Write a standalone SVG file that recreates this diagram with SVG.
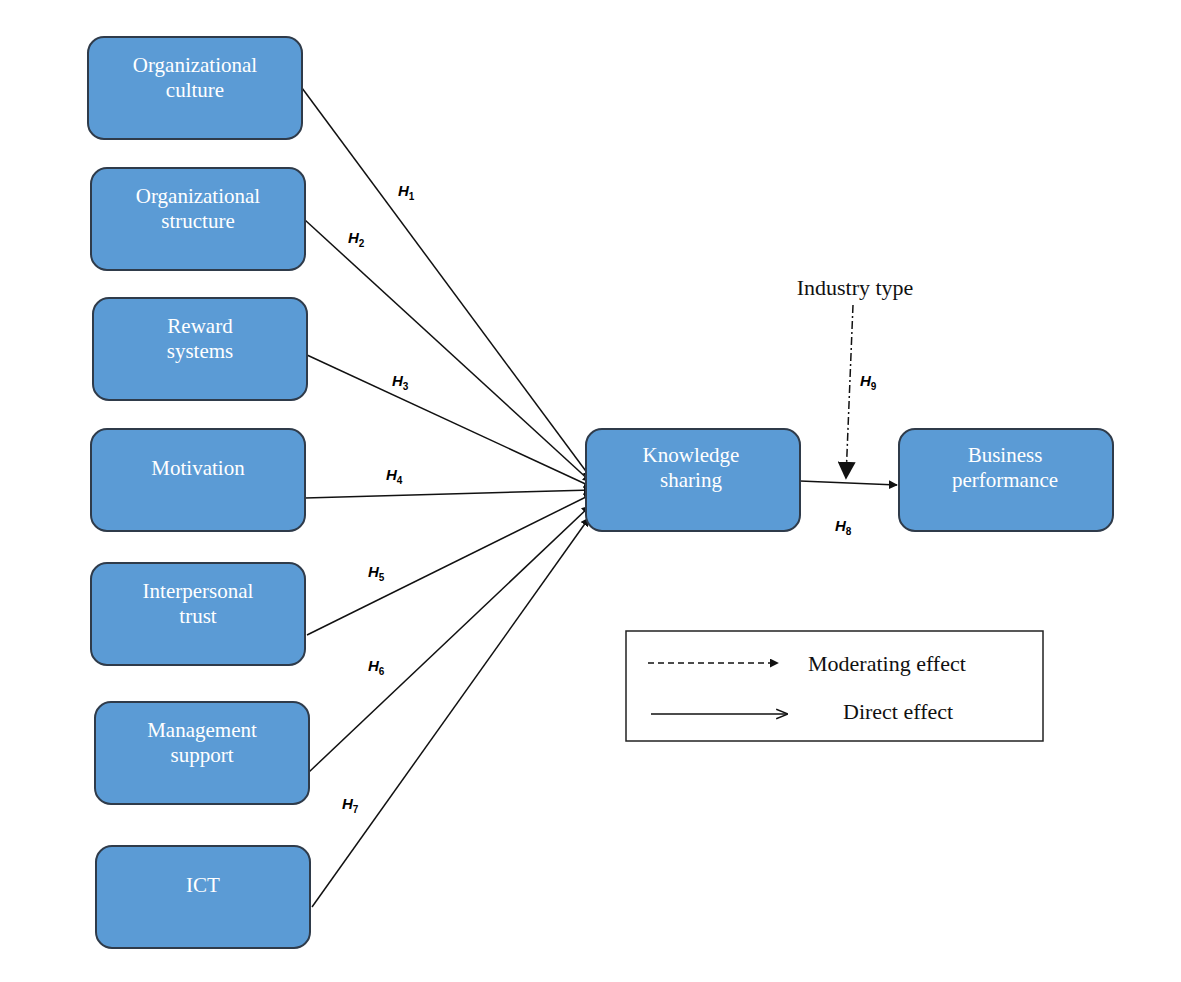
<svg xmlns="http://www.w3.org/2000/svg" width="1181" height="982" viewBox="0 0 1181 982">
<style>
.n rect{fill:#5b9bd5;stroke:#2f3b4a;stroke-width:2}
.n text{font-family:"Liberation Serif",serif;font-size:21px;fill:#fff;text-anchor:middle}
.h{font-family:"Liberation Sans",sans-serif;font-size:15px;font-weight:bold;font-style:italic;fill:#000}
.h tspan{font-size:10px;font-style:normal}
.c line{stroke:#111;stroke-width:1.5}
.lg{font-family:"Liberation Serif",serif;font-size:22px;fill:#111}
</style>
<defs>
<marker id="a" viewBox="0 0 10 10" refX="9" refY="5" markerWidth="9" markerHeight="9" markerUnits="userSpaceOnUse" orient="auto"><path d="M0,0L10,5L0,10z" fill="#111"/></marker>
<marker id="t" viewBox="0 0 10 10" refX="9" refY="5" markerWidth="18" markerHeight="18" markerUnits="userSpaceOnUse" orient="auto"><path d="M0,0L10,5L0,10z" fill="#111"/></marker>
<marker id="o" viewBox="0 0 10 10" refX="9" refY="5" markerWidth="12" markerHeight="12" markerUnits="userSpaceOnUse" orient="auto"><path d="M0,1L10,5L0,9" fill="none" stroke="#111" stroke-width="1.2"/></marker>
</defs>
<rect width="1181" height="982" fill="#fff"/>
<g class="c">
<line x1="302" y1="88" x2="591" y2="478" marker-end="url(#a)"/>
<line x1="305" y1="220" x2="591" y2="482" marker-end="url(#a)"/>
<line x1="307" y1="355" x2="592" y2="487" marker-end="url(#a)"/>
<line x1="305" y1="498" x2="592" y2="490" marker-end="url(#a)"/>
<line x1="307" y1="635" x2="592" y2="494" marker-end="url(#a)"/>
<line x1="309" y1="772" x2="590" y2="506" marker-end="url(#a)"/>
<line x1="312" y1="907" x2="589" y2="518" marker-end="url(#a)"/>
<line x1="800" y1="481" x2="897" y2="485" marker-end="url(#a)"/>
<line x1="853" y1="305" x2="846" y2="478" stroke-dasharray="8,3,2,3" stroke-width="1.2" marker-end="url(#t)"/>
</g>
<g id="n1" class="n"><rect x="88" y="37" width="214" height="102" rx="16"/><text x="195" y="72">Organizational</text><text x="195" y="97">culture</text></g>
<g id="n2" class="n"><rect x="91" y="168" width="214" height="102" rx="16"/><text x="198" y="203">Organizational</text><text x="198" y="228">structure</text></g>
<g id="n3" class="n"><rect x="93" y="298" width="214" height="102" rx="16"/><text x="200" y="333">Reward</text><text x="200" y="358">systems</text></g>
<g id="n4" class="n"><rect x="91" y="429" width="214" height="102" rx="16"/><text x="198" y="475">Motivation</text></g>
<g id="n5" class="n"><rect x="91" y="563" width="214" height="102" rx="16"/><text x="198" y="598">Interpersonal</text><text x="198" y="623">trust</text></g>
<g id="n6" class="n"><rect x="95" y="702" width="214" height="102" rx="16"/><text x="202" y="737">Management</text><text x="202" y="762">support</text></g>
<g id="n7" class="n"><rect x="96" y="846" width="214" height="102" rx="16"/><text x="203" y="892">ICT</text></g>
<g id="ks" class="n"><rect x="586" y="429" width="214" height="102" rx="16"/><text x="691" y="462">Knowledge</text><text x="691" y="487">sharing</text></g>
<g id="bp" class="n"><rect x="899" y="429" width="214" height="102" rx="16"/><text x="1005" y="462">Business</text><text x="1005" y="487">performance</text></g>
<g id="labels">
<text class="h" x="398" y="196">H<tspan dy="4">1</tspan></text>
<text class="h" x="348" y="243">H<tspan dy="4">2</tspan></text>
<text class="h" x="392" y="386">H<tspan dy="4">3</tspan></text>
<text class="h" x="386" y="480">H<tspan dy="4">4</tspan></text>
<text class="h" x="368" y="577">H<tspan dy="4">5</tspan></text>
<text class="h" x="368" y="671">H<tspan dy="4">6</tspan></text>
<text class="h" x="342" y="809">H<tspan dy="4">7</tspan></text>
<text class="h" x="835" y="531">H<tspan dy="4">8</tspan></text>
<text class="h" x="860" y="386">H<tspan dy="4">9</tspan></text>
<text class="lg" x="855" y="295" text-anchor="middle">Industry type</text>
</g>
<g id="legend">
<rect x="626" y="631" width="417" height="110" fill="none" stroke="#222" stroke-width="1.5"/>
<line x1="648" y1="663" x2="778" y2="663" stroke="#111" stroke-width="1.3" stroke-dasharray="6,4" marker-end="url(#a)"/>
<text class="lg" x="808" y="671">Moderating effect</text>
<line x1="651" y1="714" x2="787" y2="714" stroke="#111" stroke-width="1.3" marker-end="url(#o)"/>
<text class="lg" x="843" y="719" font-size="20">Direct effect</text>
</g>
</svg>
